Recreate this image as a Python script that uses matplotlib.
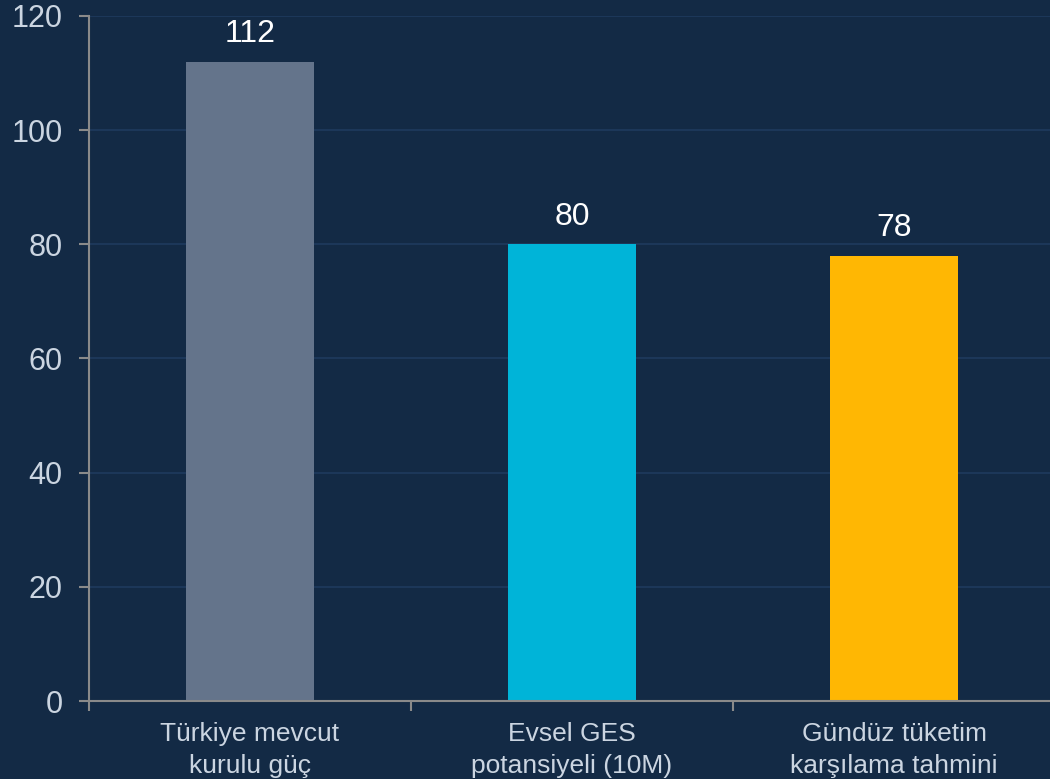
import matplotlib.pyplot as plt
from matplotlib.ticker import FixedLocator, MultipleLocator

plt.rcParams["font.family"] = ["Liberation Sans", "DejaVu Sans"]

categories = ["Türkiye mevcut\nkurulu güç", "Evsel GES\npotansiyeli (10M)", "Gündüz tüketim\nkarşılama tahmini"]
values = [112, 80, 78]
bar_colors = ["#64748b", "#00b4d8", "#ffb703"]

bg = "#132a45"
axis_gray = "#8a8a8a"
label_color = "#cbd5e1"

fig = plt.figure(figsize=(10.5, 7.79), dpi=100, facecolor=bg)
ax = fig.add_axes([0.0848, 0.1001, 0.92, 0.8794], facecolor=bg)

x = list(range(len(categories)))
bars = ax.bar(x, values, width=0.4, color=bar_colors, zorder=3)

for bar, v in zip(bars, values):
    ax.annotate(
        f"{v}",
        xy=(bar.get_x() + bar.get_width() / 2, bar.get_height()),
        xytext=(0, 9),
        textcoords="offset points",
        ha="center",
        va="bottom",
        color="white",
        fontsize=23,
    )

ax.set_xlim(-0.5, len(categories) - 0.5)
ax.set_ylim(0, 120)
ax.yaxis.set_major_locator(MultipleLocator(20))
ax.grid(axis="y", color="#1f3b60", linewidth=1.1, zorder=0)

ax.set_xticks(x)
ax.set_xticklabels(categories, fontsize=19, color=label_color, linespacing=1.42)
ax.xaxis.set_minor_locator(FixedLocator([i - 0.5 for i in range(len(categories) + 1)]))
ax.tick_params(axis="x", which="major", length=0, pad=15)
ax.tick_params(axis="x", which="minor", length=7, width=1.5, color=axis_gray)
ax.tick_params(axis="y", length=7, width=1.5, color=axis_gray, labelcolor=label_color,
               labelsize=22, pad=12)

for side in ["top", "right"]:
    ax.spines[side].set_visible(False)
for side in ["left", "bottom"]:
    ax.spines[side].set_color(axis_gray)
    ax.spines[side].set_linewidth(1.5)
    ax.spines[side].set_zorder(4)

fig.savefig("out.png", dpi=100, facecolor=bg)
